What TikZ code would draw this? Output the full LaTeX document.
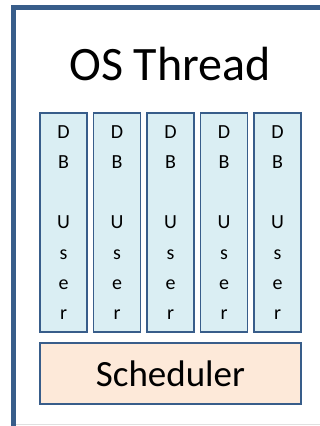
\documentclass[tikz,border=0pt]{standalone}
\usepackage{fontspec}
\setmainfont{Carlito}
\definecolor{borderblue}{RGB}{56,93,138}
\definecolor{userfill}{RGB}{218,238,243}
\definecolor{schedfill}{RGB}{253,233,217}

\begin{document}
\begin{tikzpicture}[x=1pt, y=-1pt]
        \tikzstyle{every node}=[inner sep=0pt]
        \tikzstyle{user}=[draw=borderblue, fill=userfill, line width=1.2pt, minimum width=47pt, minimum height=219pt, align=center, text depth=-6.6pt, font=\fontsize{20}{30.2}\selectfont]
        \tikzstyle{sched}=[draw=borderblue, fill=schedfill, line width=1.2pt, minimum width=261pt, minimum height=61pt, font=\fontsize{37}{44}\selectfont]

        \useasboundingbox (0,0) rectangle (320,426);
        \clip (0,0) rectangle (320,426);

% The thread box runs off the right and bottom edge.
        \draw[borderblue, line width=5pt] (13.5,7.5) rectangle (340,450);
        \draw[black!12, line width=0.8pt] (16,424.5) -- (320,424.5);

        \node[anchor=base, font=\fontsize{48}{56}\selectfont] (thread) at (170,80) {OS Thread};

        \foreach \i in {1,...,5}
            \node[user] (user\i) at ({63.5+53.5*(\i-1)},222.5) {D\\B\\\mbox{}\\U\\s\\e\\r};

        \node[sched] (sched) at (170.5,373.5) {Scheduler};

    \end{tikzpicture}
\end{document}
